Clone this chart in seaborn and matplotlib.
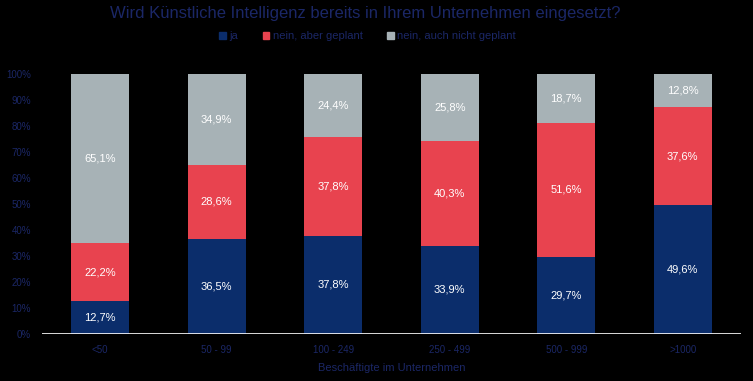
import pandas as pd
import seaborn as sns
import matplotlib.pyplot as plt

sns.set_style('dark')
plt.rcParams['font.family'] = ['Liberation Sans', 'DejaVu Sans']

categories = ['<50', '50 - 99', '100 - 249', '250 - 499', '500 - 999', '>1000']
ja = [12.7, 36.5, 37.8, 33.9, 29.7, 49.6]
geplant = [22.2, 28.6, 37.8, 40.3, 51.6, 37.6]
nicht_geplant = [65.1, 34.9, 24.4, 25.8, 18.7, 12.8]

series = ['ja', 'nein, aber geplant', 'nein, auch nicht geplant']
colors = ['#0b2d6b', '#e8434f', '#a7b2b6']
text_col = '#1b2766'

df = pd.DataFrame({'cat': categories, 'ja': ja, 'geplant': geplant, 'nicht': nicht_geplant})
df['c1'] = df.ja
df['c2'] = df.ja + df.geplant
df['c3'] = df.c2 + df.nicht

fig = plt.figure(figsize=(7.53, 3.81), dpi=100, facecolor='black')
ax = fig.add_axes([42 / 753, 1 - 334 / 381, 699 / 753, 260 / 381])
ax.set_facecolor('black')

# stacked: draw totals first, then smaller cumulative sums over them
for col, c in zip(['c3', 'c2', 'c1'], colors[::-1]):
    sns.barplot(data=df, x='cat', y=col, color=c, width=0.5, saturation=1, ax=ax, linewidth=0)

# segment labels
for i, row in df.iterrows():
    for lo, hi, v in [(0, row.c1, row.ja), (row.c1, row.c2, row.geplant), (row.c2, row.c3, row.nicht)]:
        ax.text(i, (lo + hi) / 2, f'{v:.1f}%'.replace('.', ','), ha='center', va='center',
                color='white', fontsize=8)

ax.set_xlim(-0.5, 5.5)
ax.set_ylim(0, 100)
ax.set_yticks(range(0, 101, 10))
ax.set_yticklabels([f'{t}%' for t in range(0, 101, 10)])
ax.tick_params(colors=text_col, labelsize=7, length=0)
ax.tick_params(axis='x', pad=8)
ax.tick_params(axis='y', pad=8)
ax.grid(False)
for s in ax.spines.values():
    s.set_visible(False)
ax.axhline(0, color='white', lw=1.2)
ax.set_xlabel('Beschäftigte im Unternehmen', color=text_col, fontsize=8, labelpad=6)
ax.set_ylabel('')

fig.text(0.485, 0.965, 'Wird Künstliche Intelligenz bereits in Ihrem Unternehmen eingesetzt?',
         ha='center', va='center', color=text_col, fontsize=12)

handles = [plt.Rectangle((0, 0), 1, 1, color=c) for c in colors]
leg = fig.legend(handles, series, loc='center', bbox_to_anchor=(0.488, 0.905), ncol=3,
                 frameon=False, fontsize=8, handlelength=0.6, handleheight=0.6,
                 handletextpad=0.3, columnspacing=2.2)
for t in leg.get_texts():
    t.set_color(text_col)

fig.savefig('out.png', dpi=100, facecolor='black')
